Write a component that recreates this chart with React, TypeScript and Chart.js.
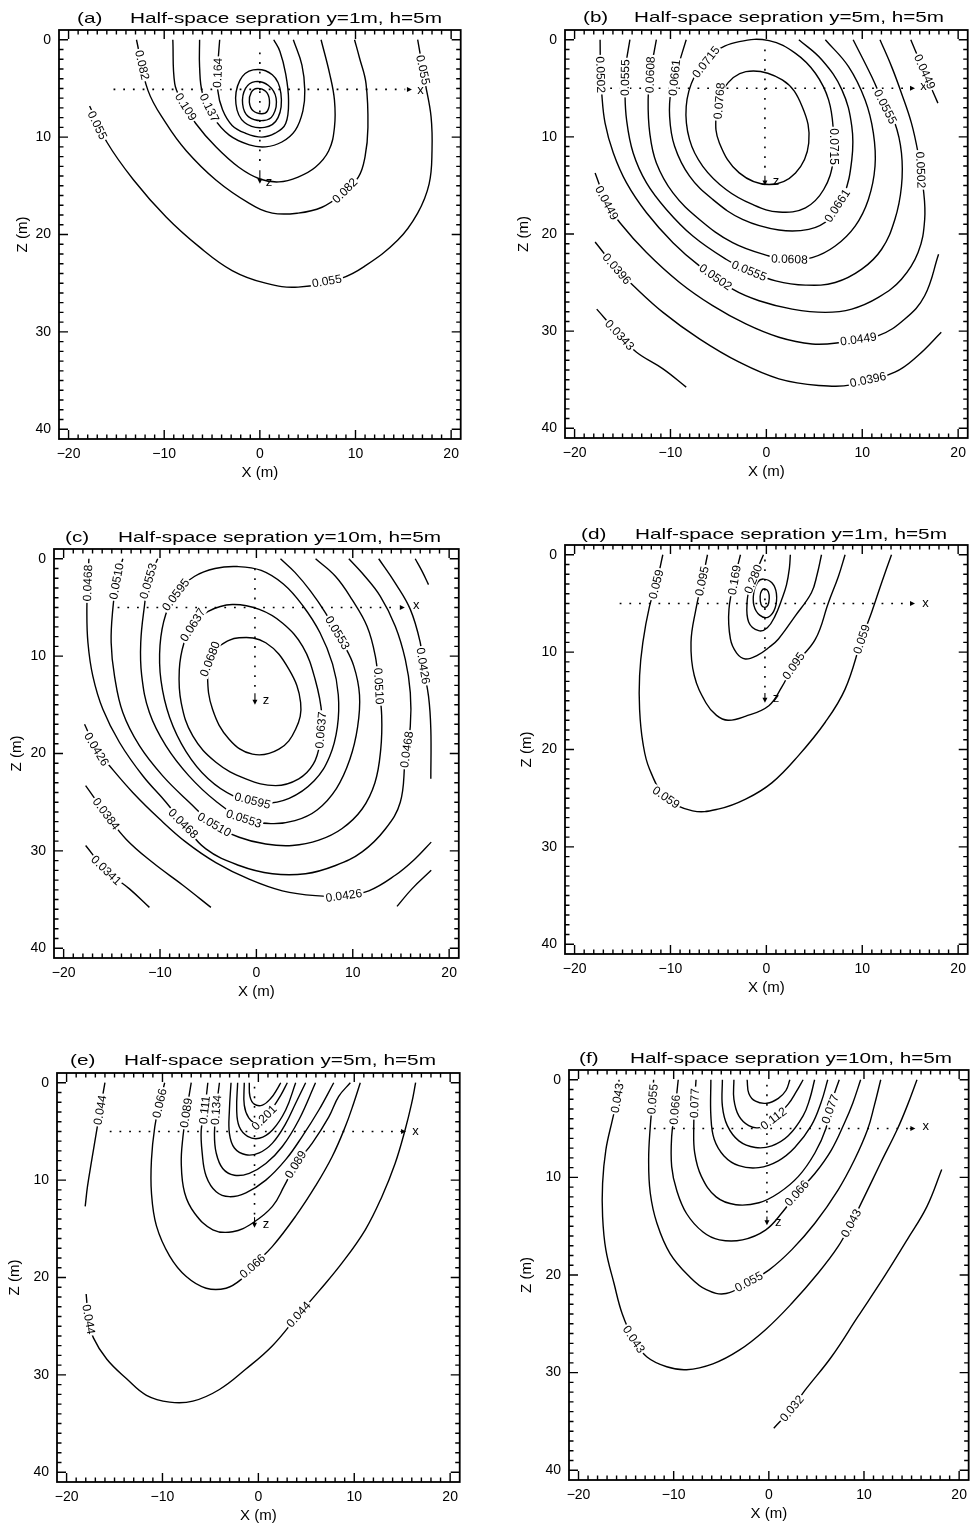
import React, { useEffect, useRef } from "react";
import { Chart, registerables } from "chart.js";
Chart.register(...registerables);

type P = [number, number];
type Lbl = [string, number, number, number];

const xTickValues = [-20, -10, 0, 10, 20];
const zTickValues = [0, 10, 20, 30, 40];
const xRange = [-21, 21];
const zRange = [-1, 41];

// ---------- Panel (a): y=1m ----------
const a055: P[] = [[-17.8,6.8],[-16.0,10.5],[-13.2,14.4],[-9.8,18.2],[-6.3,21.3],[-2.9,23.7],[0.6,25.0],[4.0,25.4],[8.5,24.5],[10.9,23.3],[14.4,20.6],[16.5,17.8],[17.7,14.8],[18.0,11.4],[17.9,7.9],[17.3,4.5],[16.5,0]];
const a082: P[] = [[-12.9,0],[-11.7,5.2],[-9.8,8.6],[-7.7,11.4],[-4.6,14.4],[-1.1,16.8],[1.3,17.8],[4.0,17.8],[6.5,17.2],[8.5,15.9],[10.3,14.1],[11.0,12.0],[11.3,9.0],[11.1,4.5],[10.4,1.8],[9.9,0]];
const a109: P[] = [[-9.1,0],[-8.9,4.5],[-8.2,6.2],[-6.7,8.6],[-4.6,11.0],[-2.2,13.1],[0,14.3],[2.0,14.6],[4.0,14.1],[5.8,13.1],[7.2,11.4],[7.8,9.0],[7.8,6.2],[7.3,3.5],[6.4,0]];
const a137: P[] = [[-6.3,0],[-6.3,2.8],[-6.0,5.5],[-4.9,7.9],[-3.2,9.8],[-1.1,10.8],[0.6,11.0],[2.3,10.5],[3.7,9.3],[4.5,7.3],[4.7,5.2],[4.4,2.6],[3.5,0]];
const a164: P[] = [[-4.2,0],[-4.4,2.8],[-4.4,5.2],[-3.9,7.2],[-2.9,8.8],[-1.5,9.6],[0.2,10.0],[1.6,9.6],[2.7,8.6],[3.0,6.2],[2.7,3.5],[2.1,1.2],[1.45,0]];
const aE3: P[] = [[-0.7,3.1],[1.3,3.6],[2.2,5.5],[1.9,8.0],[0.5,9.0],[-1.6,8.5],[-2.5,6.6],[-2.1,4.2]];
const aE2: P[] = [[-0.5,4.3],[0.9,4.7],[1.7,6.0],[1.4,7.7],[0.4,8.3],[-1.2,7.9],[-1.8,6.6],[-1.5,5.0]];
const aE1: P[] = [[-0.3,5.0],[0.6,5.3],[1.0,6.2],[0.8,7.3],[0.2,7.6],[-0.7,7.3],[-1.1,6.4],[-0.9,5.4]];
const aLabels: Lbl[] = [
  ["0.055",-17.0,8.8,64],["0.055",7.0,24.8,-10],["0.055",17.05,3.1,78],
  ["0.082",-12.3,2.6,77],["0.082",8.9,15.5,-45],
  ["0.109",-7.75,6.9,58],["0.137",-5.3,7.0,64],["0.164",-4.4,3.4,-88],
];
const aHoriz = [-15.3, 15.2, 5.1, 15.9];
const aVert = [0, 1.3, 13.2, 14.8];
const aXLab = [16.8, 5.2];
const aZLab = [0.95, 14.7];

// ---------- Panel (b): y=5m ----------
const b0768: P[] = [[-2.14,3.28],[1.66,4.14],[3.73,6.87],[4.42,10.63],[3.04,13.71],[0.28,14.91],[-2.83,13.71],[-4.9,10.63],[-5.25,7.9],[-4.56,5.16]];
const b0715: P[] = [[0.28,0.1],[3.04,1.4],[5.11,3.45],[6.49,6.19],[7.01,9.61],[7.01,12.34],[5.98,15.42],[4.08,17.3],[1.31,17.74],[-1.45,16.96],[-4.21,15.42],[-6.63,13.03],[-8.01,10.29],[-8.36,6.87],[-7.5,3.79],[-5.6,1.4],[-2.83,0.2]];
const b0661: P[] = [[-8.36,0],[-9.22,2.77],[-9.91,4.99],[-10.09,7.9],[-9.57,10.97],[-8.01,14.05],[-5.6,16.44],[-2.49,18.5],[1.31,19.59],[4.42,19.52],[6.49,18.5],[8.05,16.1],[8.91,12.34],[8.91,8.92],[7.88,5.16],[5.8,2.09],[3.39,0]];
const b0608: P[] = [[-11.47,0],[-12.09,3.45],[-12.33,6.19],[-12.16,9.61],[-11.47,12.68],[-9.74,15.76],[-6.98,18.5],[-3.52,20.89],[0.28,22.26],[2.4,22.6],[4.77,22.43],[7.18,21.23],[9.26,19.18],[10.64,16.44],[11.33,13.03],[11.16,9.61],[10.29,6.19],[8.57,2.77],[6.15,0]];
const b0555: P[] = [[-14.23,0],[-14.7,3.0],[-14.75,5.16],[-14.58,8.24],[-13.89,11.66],[-12.5,14.74],[-10.43,17.47],[-7.67,20.21],[-4.21,22.6],[-1.8,23.8],[0.97,24.82],[4.08,25.26],[7.18,24.99],[9.95,23.62],[12.02,21.57],[13.4,18.5],[14.09,15.08],[14.09,11.66],[13.4,8.58],[12.4,6.9],[10.98,3.79],[9.05,0]];
const b0502: P[] = [[-17.34,0],[-17.3,3.0],[-17.17,5.5],[-16.82,8.58],[-15.96,11.66],[-14.58,14.74],[-12.5,17.81],[-9.74,20.89],[-6.98,23.28],[-3.52,25.68],[-0.76,26.87],[2.69,27.73],[6.15,28.07],[8.91,27.73],[11.68,26.53],[14.09,24.65],[15.82,21.91],[16.51,18.5],[16.34,15.08],[15.82,11.66],[15.13,8.58],[14.09,5.5],[13.06,2.77],[11.85,0]];
const b0449a: P[] = [[-17.86,13.71],[-16.65,16.8],[-15.27,18.84],[-12.5,21.91],[-9.05,24.99],[-5.6,27.38],[-2.14,29.26],[1.31,30.63],[4.77,31.32],[7.5,31.2],[11.68,30.46],[14.44,28.75],[16.51,26.36],[17.96,22.09]];
const b0449b: P[] = [[15.06,0],[16.0,2.2],[16.9,4.3],[17.89,6.53]];
const b0396: P[] = [[-17.86,20.82],[-15.6,23.6],[-14.0,25.2],[-10.78,28.07],[-6.98,30.8],[-2.83,33.2],[1.31,34.91],[5.46,35.59],[9.0,35.5],[13.4,34.22],[15.82,32.51],[18.24,30.12]];
const b0343: P[] = [[-17.69,27.73],[-15.3,30.4],[-13.54,32.17],[-10.78,33.88],[-8.36,35.76]];
const bLabels: Lbl[] = [
  ["0.0768",-4.9,6.3,-85],["0.0715",-6.3,2.3,-52],["0.0715",7.01,11.0,90],
  ["0.0661",-9.57,3.9,-84],["0.0661",7.4,17.1,-57],
  ["0.0608",-12.1,3.6,-88],["0.0608",2.4,22.6,2],
  ["0.0555",-14.72,3.9,-89],["0.0555",-1.8,23.8,22],["0.0555",12.4,6.9,63],
  ["0.0502",-17.3,3.6,88],["0.0502",-5.3,24.45,35],["0.0502",16.08,13.4,88],
  ["0.0449",-16.65,16.8,62],["0.0449",9.6,30.83,-8],["0.0449",16.5,3.3,66],
  ["0.0396",-15.6,23.6,49],["0.0396",10.6,35.0,-12],["0.0343",-15.3,30.4,47],
];
const bHoriz = [-17.3, 14.9, 5.0, 15.5];
const bVert = [-0.15, 1.0, 13.8, 15.0];
const bXLab = [16.4, 4.8];
const bZLab = [1.0, 14.6];

// ---------- Panel (c): y=10m ----------
const c0680: P[] = [[-1.79,8.12],[0.97,8.63],[3.38,11.37],[4.59,14.78],[4.07,17.51],[2.34,19.56],[-0.41,20.07],[-2.83,18.53],[-4.55,15.46],[-5.07,12.05],[-4.7,10.0],[-3.86,8.98]];
const c0637: P[] = [[-2.5,4.7],[0.3,5.2],[2.7,6.6],[4.8,9.0],[6.1,12.4],[6.8,16.1],[6.6,18.9],[5.9,21.1],[4.4,22.6],[2.0,23.3],[-1.1,22.6],[-4.2,20.9],[-6.6,18.2],[-7.8,14.8],[-8.0,11.4],[-7.5,8.6],[-6.6,6.8],[-5.0,5.4]];
const c0595: P[] = [[-2.0,0.8],[0.5,1.2],[2.8,2.6],[4.8,4.8],[6.6,7.6],[7.9,10.8],[8.5,14.0],[8.4,17.3],[7.6,20.3],[6.0,22.8],[3.4,24.6],[0.5,25.1],[-2.3,24.4],[-5.0,22.6],[-7.3,19.8],[-9.0,16.3],[-9.9,12.5],[-10.0,8.9],[-9.4,5.7],[-8.2,3.4],[-6.4,1.8],[-4.3,1.0]];
const c0553: P[] = [[-10.24,0],[-11.2,2.3],[-11.62,4.88],[-12.0,8.6],[-11.9,12.0],[-11.1,15.8],[-9.4,19.2],[-7.0,22.3],[-4.2,24.9],[-1.3,26.7],[1.5,27.2],[4.0,26.9],[6.3,25.8],[8.3,23.6],[9.7,20.6],[10.5,17.3],[10.7,14.0],[10.1,11.0],[9.0,8.7],[7.2,5.6],[5.6,3.3],[4.0,1.4],[2.5,0]];
const c0510: P[] = [[-13.86,0],[-14.5,2.3],[-14.9,5.2],[-15.07,8.6],[-14.72,12.05],[-13.86,15.8],[-12.14,19.2],[-9.72,22.3],[-6.97,25.0],[-4.38,27.3],[-1.79,28.6],[0.97,29.3],[3.72,29.45],[6.48,28.9],[8.9,27.7],[10.97,25.7],[12.3,23.0],[12.9,19.6],[13.0,16.1],[12.69,13.07],[12.34,10.0],[11.48,6.93],[9.93,4.2],[8.2,1.8],[6.14,0]];
const c0468: P[] = [[-17.38,0],[-17.5,2.5],[-17.59,5.2],[-17.48,8.6],[-16.97,12.05],[-15.93,15.46],[-14.2,18.87],[-11.79,22.29],[-9.38,25.0],[-7.6,27.2],[-5.24,29.8],[-1.79,31.5],[1.66,32.35],[5.1,32.35],[8.21,31.5],[10.97,30.1],[13.38,27.75],[14.93,25.0],[15.45,20.58],[15.97,17.2],[15.97,13.75],[15.45,10.34],[14.41,6.93],[12.86,3.86],[10.97,1.47],[9.59,0]];
const c0426a: P[] = [[12.69,0],[14.41,2.5],[15.97,5.2],[17.0,8.6],[17.3,11.0],[17.86,14.1],[18.1,17.5],[18.1,22.6]];
const c0426b: P[] = [[-17.83,17.0],[-16.6,19.56],[-15.24,21.26],[-12.83,24.0],[-10.07,26.7],[-7.31,29.1],[-4.21,31.2],[-0.76,32.9],[2.69,34.1],[6.14,34.6],[9.07,34.6],[11.66,34.1],[14.41,32.5],[16.48,30.8],[18.14,29.1]];
const c0384a: P[] = [[-17.72,23.3],[-15.6,26.2],[-13.52,28.8],[-10.76,31.2],[-7.66,33.5],[-4.72,35.8]];
const c0384b: P[] = [[16.48,0],[17.2,1.3],[17.86,2.66]];
const c0384c: P[] = [[14.59,35.7],[16.14,33.9],[18.14,32.0]];
const c0341: P[] = [[-17.72,29.45],[-15.59,32.0],[-13.17,33.9],[-11.1,35.8]];
const cLabels: Lbl[] = [
  ["0.0468",-17.5,2.5,-88],["0.0510",-14.5,2.3,-79],["0.0553",-11.2,2.3,-74],
  ["0.0595",-8.36,3.7,-53],["0.0637",-6.6,6.8,-58],["0.0680",-4.8,10.3,-69],
  ["0.0553",8.4,7.6,59],["0.0510",12.69,13.07,87],["0.0426",17.3,11.0,81],
  ["0.0637",6.7,17.6,-85],["0.0468",15.6,19.6,-82],
  ["0.0595",-0.4,24.85,14],["0.0553",-1.3,26.7,18],["0.0510",-4.38,27.3,30],["0.0468",-7.6,27.2,45],
  ["0.0426",-16.6,19.56,59],["0.0426",9.07,34.6,-8],["0.0384",-15.6,26.2,53],["0.0341",-15.59,32.0,44],
];
const cHoriz = [-14.4, 14.7, 5.0, 15.4];
const cVert = [-0.15, 1.0, 13.6, 15.0];
const cXLab = [16.6, 4.8];
const cZLab = [1.0, 14.6];

// ---------- Panel (d): y=1m ----------
const dIn1: P[] = [[-0.15,3.5],[0.2,3.8],[0.3,4.5],[0.15,5.2],[-0.2,5.4],[-0.55,5.1],[-0.65,4.3],[-0.5,3.7]];
const dIn2: P[] = [[-0.3,2.5],[0.6,2.9],[1.05,4.0],[0.9,5.5],[0.2,6.4],[-0.7,6.2],[-1.3,5.2],[-1.3,3.8],[-0.9,2.8]];
const d280: P[] = [[-0.3,0],[-1.0,1.6],[-1.7,3.4],[-2.0,4.7],[-1.85,6.9],[-0.8,7.8],[0.1,7.5],[0.9,6.3],[1.6,4.6],[2.1,3.1],[2.4,1.4],[2.5,0]];
const d169: P[] = [[-2.7,0],[-3.2,2.0],[-3.9,5.6],[-3.75,8.65],[-3.1,10.1],[-2.2,10.7],[-0.9,10.3],[0.3,9.5],[1.26,8.65],[3.0,6.3],[4.7,3.9],[5.3,2.0],[5.75,0]];
const d095: P[] = [[-6.14,0],[-6.7,2.7],[-7.35,5.6],[-7.86,9.0],[-7.52,12.4],[-6.31,15.2],[-5.2,16.5],[-4.0,17.0],[-2.2,16.6],[0.26,15.5],[1.6,13.6],[2.85,11.42],[5.1,8.7],[6.48,4.9],[7.52,2.2],[8.21,0]];
const d059: P[] = [[-10.8,0],[-11.49,3.04],[-12.19,5.3],[-12.88,9.0],[-13.22,12.4],[-13.22,15.9],[-12.88,19.3],[-12.19,22.0],[-10.46,24.92],[-7.69,26.3],[-4.93,26.1],[-2.16,25.1],[0.6,23.4],[3.37,20.6],[6.14,17.2],[8.21,13.8],[9.94,8.68],[10.98,5.9],[12.01,2.9],[13.05,0]];
const dLabels: Lbl[] = [
  ["0.059",-11.49,3.04,-76],["0.095",-6.7,2.7,-78],["0.169",-3.32,2.6,-80],["0.280",-1.35,2.5,-68],
  ["0.095",2.85,11.42,-55],["0.059",9.94,8.68,-71],["0.059",-10.46,24.92,35],
];
const dHoriz = [-15.3, 14.8, 5.0, 15.5];
const dVert = [-0.15, 0.5, 14.0, 15.2];
const dXLab = [16.6, 5.0];
const dZLab = [1.0, 14.8];

// ---------- Panel (e): y=5m ----------
const e224: P[] = [[-0.95,0],[-0.88,1.4],[-0.43,2.2],[0.43,2.3],[1.3,1.6],[1.99,0.6],[2.33,0]];
const e201: P[] = [[-1.47,0],[-1.47,2.3],[-1.0,3.6],[-0.2,4.1],[0.6,3.6],[1.47,2.6],[2.33,1.3],[3.02,0]];
const e179: P[] = [[-2.16,0],[-2.26,2.8],[-2.0,4.5],[-1.12,5.5],[0.09,5.7],[1.47,4.85],[2.85,2.8],[3.89,0]];
const e156: P[] = [[-2.85,0],[-3.02,2.8],[-3.02,5.2],[-2.5,6.7],[-1.3,7.4],[0.09,7.2],[1.47,6.2],[2.85,4.2],[3.89,2.1],[4.93,0]];
const e134: P[] = [[-4.06,0],[-4.4,2.8],[-4.58,5.2],[-4.4,7.2],[-3.72,8.8],[-2.5,9.5],[-0.95,9.3],[0.78,8.3],[2.5,6.55],[4.23,3.8],[5.96,0]];
const e111: P[] = [[-5.27,0],[-5.6,2.8],[-5.96,4.85],[-5.86,7.2],[-5.44,9.6],[-4.4,11.2],[-3.02,11.7],[-1.3,11.3],[0.78,10.0],[2.85,7.9],[4.58,5.5],[6.31,2.8],[7.86,0]];
const e089: P[] = [[-7.0,0],[-7.52,3.1],[-7.86,5.5],[-8.04,8.3],[-7.69,11.3],[-6.65,13.4],[-4.75,15.1],[-2.68,15.3],[-0.6,14.4],[1.47,12.7],[2.7,10.6],[3.89,8.4],[5.62,6.2],[7.35,3.5],[8.38,1.4],[9.59,0]];
const e066: P[] = [[-9.77,0],[-10.3,2.1],[-10.8,4.5],[-11.15,7.9],[-11.15,11.3],[-10.63,14.7],[-9.25,17.8],[-7.52,19.9],[-5.44,21.1],[-3.37,21.1],[-1.8,20.2],[-0.6,18.84],[1.47,16.8],[3.89,13.7],[5.96,10.6],[7.69,7.6],[9.07,4.5],[9.94,2.1],[10.63,0]];
const e044a: P[] = [[-16.0,0],[-16.5,2.8],[-16.85,4.85],[-17.37,7.9],[-17.82,10.65],[-18.06,12.7]];
const e044b: P[] = [[-17.96,21.7],[-17.7,24.3],[-17.2,26.2],[-15.8,28.4],[-13.74,30.4],[-11.67,32.1],[-9.25,32.8],[-6.83,32.7],[-4.06,31.5],[-1.3,29.4],[1.47,27.0],[4.2,23.8],[6.31,21.4],[8.73,18.5],[11.15,15.1],[12.88,11.7],[14.26,8.3],[15.3,4.85],[15.99,2.1],[16.4,0]];
const eLabels: Lbl[] = [
  ["0.044",-16.5,2.8,-80],["0.066",-10.3,2.1,-77],["0.089",-7.52,3.1,-81],["0.111",-5.6,2.8,-84],["0.134",-4.4,2.8,-85],
  ["0.201",0.6,3.6,-45],["0.089",3.89,8.4,-58],["0.066",-0.6,18.84,-42],["0.044",-17.7,24.3,80],["0.044",4.2,23.8,-48],
];
const eHoriz = [-15.5, 14.6, 5.0, 15.4];
const eVert = [-0.4, 0.4, 13.6, 14.9];
const eXLab = [16.4, 5.0];
const eZLab = [0.8, 14.6];

// ---------- Panel (f): y=10m ----------
const f123: P[] = [[-2.28,0],[-2.1,1.4],[-1.4,2.2],[-0.2,2.4],[1.0,1.9],[1.8,1.1],[2.21,0]];
const f112: P[] = [[-3.67,0],[-3.67,2.0],[-3.15,3.7],[-2.11,4.7],[-1.0,4.9],[0.31,4.2],[2.04,2.5],[2.9,1.2],[3.6,0]];
const f100: P[] = [[-4.88,0],[-4.88,2.7],[-4.36,4.7],[-3.15,6.26],[-1.42,6.94],[0.31,6.77],[2.04,5.74],[3.6,3.7],[4.29,2.0],[4.81,0]];
const f089: P[] = [[-6.09,0],[-6.09,3.7],[-5.74,6.1],[-4.71,7.8],[-3.15,8.8],[-1.07,9.0],[1.0,8.3],[2.73,6.94],[4.46,4.7],[5.5,2.3],[6.19,0]];
const f077: P[] = [[-7.65,0],[-7.8,2.4],[-7.89,4.8],[-7.79,7.5],[-7.09,9.9],[-5.54,12.0],[-3.46,12.8],[-1.04,12.6],[1.04,11.6],[3.11,9.9],[4.84,7.5],[6.0,5.0],[6.6,2.3],[7.4,0]];
const f066: P[] = [[-9.52,0],[-9.86,3.08],[-10.21,5.8],[-10.21,8.9],[-9.69,11.3],[-8.65,13.7],[-6.92,15.6],[-5.19,16.4],[-2.77,16.4],[-0.35,15.4],[1.4,13.6],[2.94,11.62],[4.84,9.6],[6.57,7.2],[7.96,4.4],[8.82,2.4],[9.65,0]];
const f055: P[] = [[-12.11,0],[-12.21,1.98],[-12.46,4.8],[-12.63,8.2],[-12.46,11.6],[-11.76,14.7],[-10.38,17.8],[-8.3,20.2],[-6.57,21.5],[-4.5,21.9],[-2.08,20.7],[0,19.5],[2.42,17.4],[4.84,14.7],[7.27,11.3],[9.0,8.2],[10.38,5.1],[11.07,2.7],[11.76,0]];
const f043: P[] = [[-15.74,0],[-15.92,1.88],[-16.44,4.1],[-17.13,7.2],[-17.47,10.6],[-17.47,14.0],[-17.13,17.4],[-16.26,20.9],[-15.4,24.0],[-14.2,26.6],[-12.8,28.4],[-10.73,29.4],[-8.65,29.7],[-5.88,29.1],[-3.11,27.7],[-0.35,25.6],[2.42,22.9],[5.19,19.8],[7.27,17.1],[8.65,14.7],[10.03,12.0],[11.76,8.5],[13.49,5.1],[14.53,2.7],[15.57,0]];
const f032: P[] = [[0.52,35.7],[2.42,33.68],[3.81,31.8],[6.57,28.4],[9.34,24.3],[12.11,20.2],[14.53,16.4],[16.61,13.0],[18.17,9.2]];
const fLabels: Lbl[] = [
  ["0.043",-15.92,1.88,-80],["0.055",-12.21,1.98,-85],["0.066",-9.86,3.08,-85],["0.077",-7.8,2.4,-88],
  ["0.112",0.5,4.0,-37],["0.077",6.45,3.0,-70],["0.066",2.94,11.62,-49],["0.055",-2.1,20.7,-28],
  ["0.043",-14.2,26.6,56],["0.043",8.65,14.7,-62],["0.032",2.42,33.68,-50],
];
const fHoriz = [-13.1, 14.6, 5.0, 15.4];
const fVert = [-0.2, 0.5, 13.8, 14.9];
const fXLab = [16.5, 4.8];
const fZLab = [1.0, 14.6];

// ---------- layout ----------
interface Line { pts: P[]; closed?: boolean }
interface Panel {
  tag: string; title: string;
  L: number; T: number; R: number; B: number;
  tagX: number; t0: number; t1: number; ty: number; zTitleX: number;
  lines: Line[]; labels: Lbl[];
  horiz: number[]; vert: number[]; xLab: number[]; zLab: number[];
}

const panels: Panel[] = [
  { tag: "(a)", title: "Half-space sepration y=1m, h=5m", L: 59, T: 30, R: 463, B: 439, tagX: 77, t0: 130, t1: 442, ty: 23, zTitleX: 23,
    lines: [{ pts: a055 }, { pts: a082 }, { pts: a109 }, { pts: a137 }, { pts: a164 }, { pts: aE3, closed: true }, { pts: aE2, closed: true }, { pts: aE1, closed: true }],
    labels: aLabels, horiz: aHoriz, vert: aVert, xLab: aXLab, zLab: aZLab },
  { tag: "(b)", title: "Half-space sepration y=5m, h=5m", L: 565, T: 30, R: 970, B: 438, tagX: 583, t0: 634, t1: 944, ty: 22, zTitleX: 524,
    lines: [{ pts: b0768, closed: true }, { pts: b0715, closed: true }, { pts: b0661 }, { pts: b0608 }, { pts: b0555 }, { pts: b0502 }, { pts: b0449a }, { pts: b0449b }, { pts: b0396 }, { pts: b0343 }],
    labels: bLabels, horiz: bHoriz, vert: bVert, xLab: bXLab, zLab: bZLab },
  { tag: "(c)", title: "Half-space sepration y=10m, h=5m", L: 54, T: 549, R: 461, B: 958, tagX: 65, t0: 118, t1: 441, ty: 542, zTitleX: 17,
    lines: [{ pts: c0680, closed: true }, { pts: c0637, closed: true }, { pts: c0595, closed: true }, { pts: c0553 }, { pts: c0510 }, { pts: c0468 }, { pts: c0426a }, { pts: c0426b }, { pts: c0384a }, { pts: c0384b }, { pts: c0384c }, { pts: c0341 }],
    labels: cLabels, horiz: cHoriz, vert: cVert, xLab: cXLab, zLab: cZLab },
  { tag: "(d)", title: "Half-space sepration y=1m, h=5m", L: 565, T: 545, R: 970, B: 954, tagX: 581, t0: 635, t1: 947, ty: 539, zTitleX: 527,
    lines: [{ pts: dIn1, closed: true }, { pts: dIn2, closed: true }, { pts: d280 }, { pts: d169 }, { pts: d095 }, { pts: d059 }],
    labels: dLabels, horiz: dHoriz, vert: dVert, xLab: dXLab, zLab: dZLab },
  { tag: "(e)", title: "Half-space sepration y=5m, h=5m", L: 57, T: 1073, R: 462, B: 1482, tagX: 70, t0: 124, t1: 436, ty: 1065, zTitleX: 15,
    lines: [{ pts: e224 }, { pts: e201 }, { pts: e179 }, { pts: e156 }, { pts: e134 }, { pts: e111 }, { pts: e089 }, { pts: e066 }, { pts: e044a }, { pts: e044b }],
    labels: eLabels, horiz: eHoriz, vert: eVert, xLab: eXLab, zLab: eZLab },
  { tag: "(f)", title: "Half-space sepration y=10m, h=5m", L: 569, T: 1070, R: 971, B: 1480, tagX: 579, t0: 630, t1: 952, ty: 1063, zTitleX: 527,
    lines: [{ pts: f123 }, { pts: f112 }, { pts: f100 }, { pts: f089 }, { pts: f077 }, { pts: f066 }, { pts: f055 }, { pts: f043 }, { pts: f032 }],
    labels: fLabels, horiz: fHoriz, vert: fVert, xLab: fXLab, zLab: fZLab },
];

const FONT = '"Liberation Sans", Arial, Helvetica, sans-serif';
const YAXIS_W = 55, XAXIS_H = 50, PAD_TOP = 30, PAD_RIGHT = 3;

function geom(p: Panel) {
  const CL = p.L - YAXIS_W;
  const CT = p.T - PAD_TOP;
  return { CL, CT, W: p.R - CL + PAD_RIGHT, H: p.B - CT + XAXIS_H };
}

const fmt = (v: number) => (v < 0 ? "\u2212" + Math.abs(v) : String(v));

function lineDataset(l: Line) {
  const toXY = (q: P) => ({ x: q[0], y: q[1] });
  const base: any = { showLine: true, borderColor: "#000", borderWidth: 1.4, pointRadius: 0, pointHoverRadius: 0, tension: 0.4, fill: false };
  if (!l.closed) return { ...base, data: l.pts.map(toXY) };
  const n = l.pts.length;
  const seq = [l.pts[n - 1], ...l.pts, l.pts[0], l.pts[1]];
  return {
    ...base,
    data: seq.map(toXY),
    segment: { borderColor: (c: any) => (c.p0DataIndex === 0 || c.p0DataIndex === n + 1 ? "rgba(0,0,0,0)" : "#000") },
  };
}

function guideDataset(a: P, b: P) {
  return { showLine: true, data: [{ x: a[0], y: a[1] }, { x: b[0], y: b[1] }], borderColor: "#000", borderWidth: 1.6, borderDash: [1.8, 7.9], pointRadius: 0, tension: 0, fill: false };
}

function makeDecor(p: Panel, CL: number, CT: number) {
  return {
    id: "decor",
    afterDatasetsDraw(chart: any) {
      const { ctx } = chart;
      const xs = chart.scales.x, ys = chart.scales.y;
      const X = (v: number) => xs.getPixelForValue(v);
      const Y = (v: number) => ys.getPixelForValue(v);
      ctx.save();
      ctx.strokeStyle = "#000";
      ctx.fillStyle = "#000";
      ctx.lineWidth = 1.1;
      const [, hx1, hz, htip] = p.horiz;
      const ay = Y(hz), tx = X(htip);
      ctx.beginPath(); ctx.moveTo(X(hx1) + 2, ay); ctx.lineTo(tx - 3, ay); ctx.stroke();
      ctx.beginPath(); ctx.moveTo(tx, ay); ctx.lineTo(tx - 5, ay - 2.5); ctx.lineTo(tx - 5, ay + 2.5); ctx.closePath(); ctx.fill();
      const [vx, , vz1, vtip] = p.vert;
      const ax = X(vx), ty = Y(vtip);
      ctx.beginPath(); ctx.moveTo(ax, Y(vz1) + 2); ctx.lineTo(ax, ty - 3); ctx.stroke();
      ctx.beginPath(); ctx.moveTo(ax, ty); ctx.lineTo(ax - 2.5, ty - 5); ctx.lineTo(ax + 2.5, ty - 5); ctx.closePath(); ctx.fill();
      ctx.font = `13px ${FONT}`;
      ctx.textAlign = "center";
      ctx.textBaseline = "middle";
      ctx.fillText("x", X(p.xLab[0]), Y(p.xLab[1]));
      ctx.fillText("z", X(p.zLab[0]), Y(p.zLab[1]));
      ctx.font = `12px ${FONT}`;
      for (const [t, x, z, a] of p.labels) {
        ctx.save();
        ctx.translate(X(x), Y(z));
        ctx.rotate((a * Math.PI) / 180);
        const w = ctx.measureText(t).width;
        ctx.fillStyle = "#fff";
        ctx.fillRect(-w / 2 - 1.5, -5, w + 3, 10);
        ctx.fillStyle = "#000";
        ctx.fillText(t, 0, 0.5);
        ctx.restore();
      }
      ctx.restore();
    },
    afterDraw(chart: any) {
      const { ctx, chartArea: ca } = chart;
      const xs = chart.scales.x, ys = chart.scales.y;
      ctx.save();
      ctx.strokeStyle = "#000";
      ctx.lineWidth = 1.4;
      ctx.beginPath();
      for (let v = xTickValues[0]; v <= xTickValues[xTickValues.length - 1]; v++) {
        const len = Math.abs(v) % 10 === 0 ? 9 : 4.5;
        const px = xs.getPixelForValue(v);
        ctx.moveTo(px, ca.bottom); ctx.lineTo(px, ca.bottom - len);
        ctx.moveTo(px, ca.top); ctx.lineTo(px, ca.top + len);
      }
      for (let v = zTickValues[0]; v <= zTickValues[zTickValues.length - 1]; v++) {
        const len = v % 10 === 0 ? 9 : 4.5;
        const py = ys.getPixelForValue(v);
        ctx.moveTo(ca.left, py); ctx.lineTo(ca.left + len, py);
        ctx.moveTo(ca.right, py); ctx.lineTo(ca.right - len, py);
      }
      ctx.stroke();
      ctx.lineWidth = 1.8;
      ctx.strokeRect(ca.left, ca.top, ca.right - ca.left, ca.bottom - ca.top);
      ctx.fillStyle = "#000";
      ctx.font = `15px ${FONT}`;
      ctx.textAlign = "left";
      ctx.textBaseline = "alphabetic";
      const w = ctx.measureText(p.title).width;
      const sx = (p.t1 - p.t0) / w;
      ctx.save();
      ctx.translate(p.tagX - CL, p.ty - CT);
      ctx.scale(sx, 1);
      ctx.fillText(p.tag, 0, 0);
      ctx.restore();
      ctx.save();
      ctx.translate(p.t0 - CL, p.ty - CT);
      ctx.scale(sx, 1);
      ctx.fillText(p.title, 0, 0);
      ctx.restore();
      ctx.restore();
    },
  };
}

function build(canvas: HTMLCanvasElement, p: Panel) {
  const { CL, CT } = geom(p);
  const datasets: any[] = p.lines.map(lineDataset);
  datasets.push(guideDataset([p.horiz[0], p.horiz[2]], [p.horiz[1], p.horiz[2]]));
  datasets.push(guideDataset([p.vert[0], p.vert[1]], [p.vert[0], p.vert[2]]));
  const tickFont = { family: FONT, size: 14 };
  const titleFont = { family: FONT, size: 15 };
  return new Chart(canvas, {
    type: "scatter",
    data: { datasets },
    options: {
      responsive: false,
      animation: false,
      events: [],
      layout: { padding: { left: 0, top: PAD_TOP, right: PAD_RIGHT, bottom: 0 } },
      plugins: { legend: { display: false }, tooltip: { enabled: false }, title: { display: false } },
      scales: {
        x: {
          type: "linear", position: "bottom", min: xRange[0], max: xRange[1],
          afterBuildTicks: (s: any) => { s.ticks = xTickValues.map((v) => ({ value: v })); },
          afterFit: (s: any) => { s.height = XAXIS_H; },
          grid: { display: false, drawTicks: false },
          border: { display: false },
          ticks: { color: "#000", font: tickFont, padding: 7, maxRotation: 0, autoSkip: false, callback: (v: any) => fmt(Number(v)) },
          title: { display: true, text: "X (m)", color: "#000", font: titleFont, padding: { top: 0, bottom: 7 } },
        },
        y: {
          type: "linear", position: "left", min: zRange[0], max: zRange[1], reverse: true,
          afterBuildTicks: (s: any) => { s.ticks = zTickValues.map((v) => ({ value: v })); },
          afterFit: (s: any) => { s.width = YAXIS_W; },
          grid: { display: false, drawTicks: false },
          border: { display: false },
          ticks: { color: "#000", font: tickFont, padding: 8, autoSkip: false, callback: (v: any) => fmt(Number(v)) },
          title: { display: true, text: "Z (m)", color: "#000", font: titleFont, padding: { top: Math.max(0, p.zTitleX - CL - 9), bottom: 0 } },
        },
      },
    } as any,
    plugins: [makeDecor(p, CL, CT)],
  });
}

export default function App() {
  const refs = useRef<(HTMLCanvasElement | null)[]>([]);
  useEffect(() => {
    const charts = panels.map((p, i) => build(refs.current[i] as HTMLCanvasElement, p));
    return () => charts.forEach((c) => c.destroy());
  }, []);
  return (
    <div style={{ position: "absolute", left: 0, top: 0, width: 974, height: 1525, overflow: "hidden", background: "#fff" }}>
      {panels.map((p, i) => {
        const g = geom(p);
        return (
          <canvas
            key={i}
            ref={(el) => { refs.current[i] = el; }}
            width={g.W}
            height={g.H}
            style={{ position: "absolute", left: g.CL, top: g.CT, width: g.W, height: g.H }}
          />
        );
      })}
    </div>
  );
}
